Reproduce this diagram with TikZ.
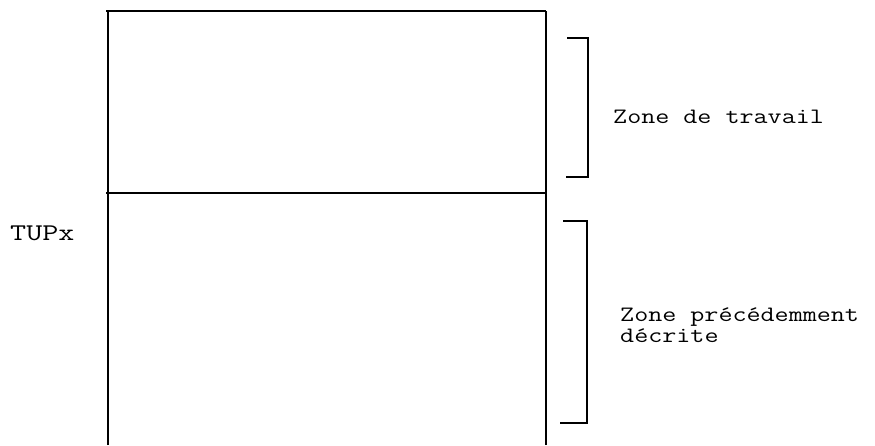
\documentclass[tikz,border=0pt]{standalone}
\usepackage{fontspec}
\newfontfamily\zonefont[FakeStretch=1.24]{Latin Modern Mono}
\newfontfamily\tupfont[FakeStretch=1.3]{Latin Modern Mono}
\begin{document}
\begin{tikzpicture}[x=1pt,y=-1pt,
  wall/.style={line width=1.1pt, line cap=butt},
  lbl/.style={inner sep=0pt, anchor=base west, font=\zonefont\fontsize{22}{21}\selectfont},
  biglbl/.style={inner sep=0pt, anchor=base west, font=\tupfont\fontsize{24}{24}\selectfont}]
\useasboundingbox (0,0) rectangle (875,445);
% open-bottomed column with its dividing line
\draw[wall] (108,445) -- (108,11);
\draw[wall] (546,445) -- (546,11);
\draw[wall] (106,11) -- (546,11);
\draw[wall] (106,193) -- (546,193);
% braces marking the two zones
\draw[wall] (567,38) -- (588,38) -- (588,177) -- (566,177);
\draw[wall] (563,221) -- (587,221) -- (587,423) -- (560,423);
% labels
\node[biglbl] (tup) at (10,240) {TUPx};
\node[lbl] (travail) at (613,123) {Zone de travail};
\node[lbl] (prec) at (620,321) {Zone précédemment};
\node[lbl] (decrite) at (620,342) {décrite};
\end{tikzpicture}
\end{document}
